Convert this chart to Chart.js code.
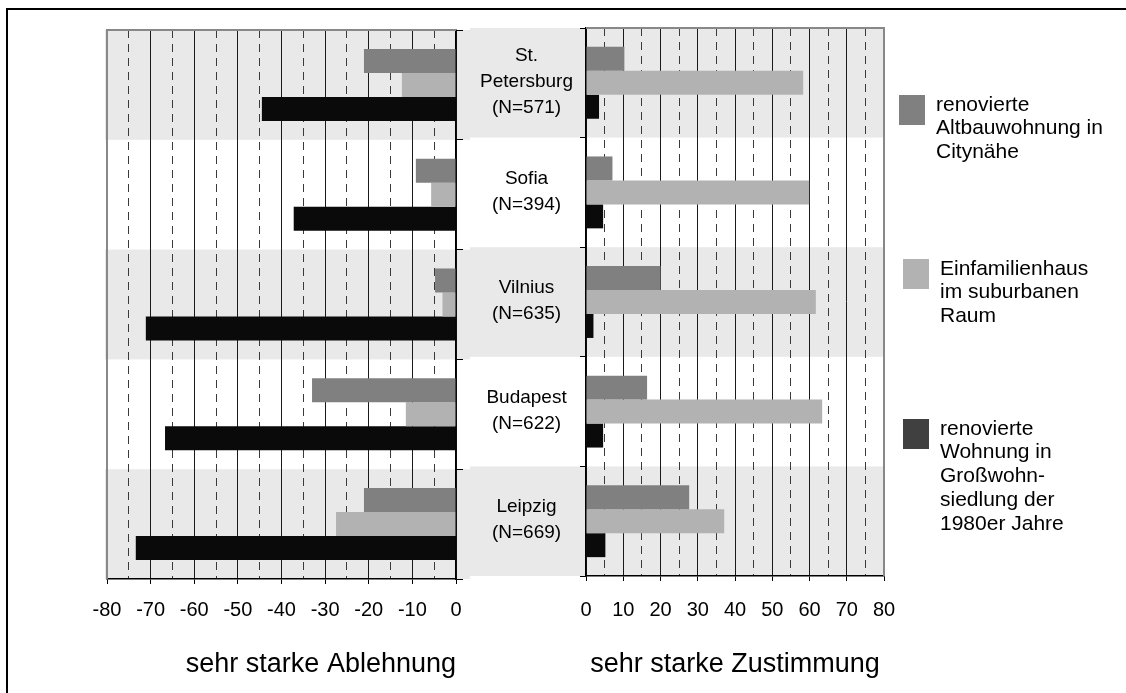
<!DOCTYPE html>
<html><head><meta charset="utf-8">
<script src="https://cdn.jsdelivr.net/npm/chart.js@4.4.1/dist/chart.umd.min.js"></script>
<style>
html,body{margin:0;padding:0;background:#fff;width:1126px;height:693px;overflow:hidden;}
#frame{position:absolute;left:6px;top:8px;width:1140px;height:700px;border-left:2px solid #000;border-top:2px solid #000;}
#cL{position:absolute;left:0;top:0;}
#cR{position:absolute;left:470px;top:0;}
</style></head><body>
<div id="frame"></div>
<canvas id="cL" width="470" height="693"></canvas>
<canvas id="cR" width="656" height="693"></canvas>
<script>
// ---- data ----
const categories = [
  ['St.', 'Petersburg', '(N=571)'],
  ['Sofia', '(N=394)'],
  ['Vilnius', '(N=635)'],
  ['Budapest', '(N=622)'],
  ['Leipzig', '(N=669)']
];
const seriesNames = [
  ['renovierte', 'Altbauwohnung in', 'Citynähe'],
  ['Einfamilienhaus', 'im suburbanen', 'Raum'],
  ['renovierte', 'Wohnung in', 'Großwohn-', 'siedlung der', '1980er Jahre']
];
// sehr starke Ablehnung (negative)
const ablehnungAltbau  = [-21.1, -9.2, -4.8, -33.0, -21.1];
const ablehnungEFH     = [-12.4, -5.7, -3.1, -11.5, -27.5];
const ablehnungPlatte  = [-44.5, -37.2, -71.1, -66.7, -73.4];
// sehr starke Zustimmung
const zustimmungAltbau = [10.3, 7.1, 20.0, 16.4, 27.7];
const zustimmungEFH    = [58.3, 59.9, 61.7, 63.4, 37.1];
const zustimmungPlatte = [3.5, 4.6, 2.0, 4.6, 5.2];
const leftRange = [-80, 0];
const rightRange = [0, 80];
const tickStep = 5, labelStep = 10;
const axisTitles = ['sehr starke Ablehnung', 'sehr starke Zustimmung'];

// ---- styles ----
const FONT = "'Liberation Sans', Arial, Helvetica, sans-serif";
Chart.defaults.font.family = FONT;
Chart.defaults.color = '#000';
const barColors = ['#808080', '#b2b2b2', '#0a0a0a'];
const legendColors = ['#808080', '#b2b2b2', '#404040'];
const bandColor = '#e9e9e9';

const isMajor = (c) => c.tick && Math.round(c.tick.value) % labelStep === 0;

function zeroPad(s) { s.paddingLeft = 0; s.paddingRight = 0; s.paddingTop = 0; s.paddingBottom = 0; }

function makeDatasets(arrs) {
  return arrs.map((d, i) => ({
    label: seriesNames[i].join(' '),
    data: d,
    backgroundColor: barColors[i],
    borderWidth: 0,
    barPercentage: 1.0,
    categoryPercentage: 0.656
  }));
}

const bandPlugin = {
  id: 'bands',
  beforeDraw(chart, args, opts) {
    const ctx = chart.ctx, y = chart.scales.y;
    const n = categories.length, h = (y.bottom - y.top) / n;
    ctx.save();
    ctx.fillStyle = bandColor;
    for (let i = 0; i < n; i += 2) {
      const c = y.getPixelForValue(i);
      ctx.fillRect(opts.x0, c - h / 2, opts.x1 - opts.x0, h);
    }
    ctx.restore();
  }
};

const frameBorderPlugin = {
  id: 'plotBorder',
  beforeDatasetsDraw(chart, args, opts) {
    const ctx = chart.ctx, a = chart.chartArea;
    ctx.save();
    ctx.strokeStyle = '#888';
    ctx.lineWidth = 2;
    ctx.beginPath();
    ctx.moveTo(a.left, a.top); ctx.lineTo(a.right, a.top);
    if (opts.side === 'left') { ctx.moveTo(a.left, a.top - 1); ctx.lineTo(a.left, a.bottom); }
    else { ctx.moveTo(a.right, a.top - 1); ctx.lineTo(a.right, a.bottom); }
    ctx.stroke();
    ctx.restore();
  }
};

const legendPlugin = {
  id: 'sideLegend',
  afterDraw(chart, args, opts) {
    const ctx = chart.ctx;
    ctx.save();
    ctx.font = '21px ' + FONT;
    ctx.textBaseline = 'middle';
    ctx.textAlign = 'left';
    chart.data.datasets.forEach((ds, i) => {
      const sx = opts.swatchX[i] - opts.offsetX, sy = opts.itemTop[i];
      ctx.fillStyle = legendColors[i];
      ctx.fillRect(sx, sy, 26, 30);
      ctx.fillStyle = '#000';
      seriesNames[i].forEach((line, j) => {
        ctx.fillText(line, sx + 37, sy + 10 + j * 23.7);
      });
    });
    ctx.restore();
  }
};

function xScale(range, title, align, tickPad, height) {
  return {
    type: 'linear', position: 'bottom', min: range[0], max: range[1],
    ticks: {
      stepSize: tickStep, autoSkip: false, maxRotation: 0, minRotation: 0,
      padding: tickPad, color: '#000', font: { size: 20 },
      callback: (v) => (Math.round(v) % labelStep === 0 ? String(v) : '')
    },
    grid: {
      color: (c) => (isMajor(c) ? '#1a1a1a' : '#3a3a3a'),
      lineWidth: 1, tickLength: 5,
      tickColor: (c) => (isMajor(c) ? '#000' : 'rgba(0,0,0,0)')
    },
    border: {
      display: true, color: '#000', width: 1.5,
      dash: (c) => (c.type === 'tick' && !isMajor(c) ? [8, 6] : [])
    },
    title: {
      display: true, text: title, align: align, color: '#000',
      font: { size: 27 }, padding: { top: 0, bottom: 12 }
    },
    afterFit(s) { s.height = height; zeroPad(s); }
  };
}

new Chart(document.getElementById('cL'), {
  type: 'bar',
  data: { labels: categories, datasets: makeDatasets([ablehnungAltbau, ablehnungEFH, ablehnungPlatte]) },
  options: {
    responsive: false, animation: false, indexAxis: 'y',
    layout: { padding: { left: 107, top: 30, right: 0, bottom: 0 } },
    plugins: { legend: { display: false }, tooltip: { enabled: false },
      bands: { x0: 105, x1: 470 }, plotBorder: { side: 'left' } },
    scales: {
      x: xScale(leftRange, axisTitles[0], 'end', 14, 114),
      y: {
        type: 'category', position: 'right',
        ticks: { display: false },
        grid: { drawOnChartArea: false, tickLength: 7, color: '#000', offset: true },
        border: { color: '#000', width: 1.5 },
        afterFit(s) { s.width = 14; zeroPad(s); }
      }
    }
  },
  plugins: [bandPlugin, frameBorderPlugin]
});

new Chart(document.getElementById('cR'), {
  type: 'bar',
  data: { labels: categories, datasets: makeDatasets([zustimmungAltbau, zustimmungEFH, zustimmungPlatte]) },
  options: {
    responsive: false, animation: false, indexAxis: 'y',
    layout: { padding: { left: 0, top: 28, right: 242, bottom: 0 } },
    plugins: { legend: { display: false }, tooltip: { enabled: false },
      bands: { x0: 0, x1: 415 }, plotBorder: { side: 'right' },
      sideLegend: { offsetX: 470, swatchX: [899, 903, 903], itemTop: [95, 259, 419] } },
    scales: {
      x: xScale(rightRange, axisTitles[1], 'center', 17, 117),
      y: {
        type: 'category', position: 'left',
        ticks: { display: true, autoSkip: false, crossAlign: 'center', padding: 7, labelOffset: -1,
          color: '#000', font: { size: 19, lineHeight: 1.37 } },
        grid: { drawOnChartArea: false, tickLength: 6, color: '#000', offset: true },
        border: { color: '#000', width: 1.5 },
        afterFit(s) { s.width = 116; zeroPad(s); }
      }
    }
  },
  plugins: [bandPlugin, frameBorderPlugin, legendPlugin]
});
</script>
</body></html>
